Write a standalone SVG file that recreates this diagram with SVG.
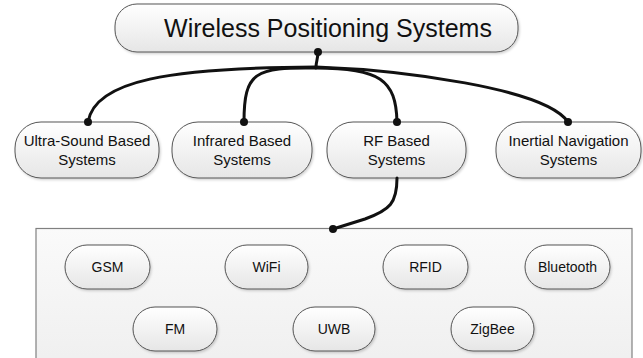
<svg xmlns="http://www.w3.org/2000/svg" width="643" height="358" viewBox="0 0 643 358">
<defs>
<linearGradient id="nodeFill" x1="0" y1="0" x2="0" y2="1">
<stop offset="0" stop-color="#ffffff"/>
<stop offset="1" stop-color="#e6e6e6"/>
</linearGradient>
<linearGradient id="panelFill" x1="0" y1="0" x2="0" y2="1">
<stop offset="0" stop-color="#fafafa"/>
<stop offset="1" stop-color="#efefef"/>
</linearGradient>
<filter id="shadow" x="-10%" y="-10%" width="125%" height="140%">
<feDropShadow dx="1.2" dy="1.5" stdDeviation="1" flood-color="#000" flood-opacity="0.18"/>
</filter>
<marker id="dot" viewBox="0 0 10 10" refX="5" refY="5" markerWidth="10" markerHeight="10" markerUnits="userSpaceOnUse">
<circle cx="5" cy="5" r="4" fill="#111"/>
</marker>
</defs>
<style>
.node{fill:url(#nodeFill);stroke:#555;stroke-width:1;filter:url(#shadow)}
.panel{fill:url(#panelFill);stroke:#808080;stroke-width:1.2}
.t{font-family:"Liberation Sans",Arial,sans-serif;fill:#111;text-anchor:middle}
.t15{font-size:15px}
.t14{font-size:14px}
.t25{font-size:25px}
.conn{fill:none;stroke:#111;stroke-width:3;stroke-linecap:round}
</style>

<g id="panel-rf">
<rect class="panel" x="36" y="228.5" width="596" height="140"/>
</g>

<g id="node-root">
<rect class="node" x="115" y="4" width="403" height="48" rx="22"/>
<text class="t t25" x="328" y="37">Wireless Positioning Systems</text>
</g>

<g id="node-ultrasound">
<rect class="node" x="15" y="122" width="144" height="56" rx="26"/>
<text class="t t15" x="87" y="146">Ultra-Sound Based</text>
<text class="t t15" x="87" y="165">Systems</text>
</g>
<g id="node-infrared">
<rect class="node" x="172" y="122" width="140" height="56" rx="26"/>
<text class="t t15" x="242" y="146">Infrared Based</text>
<text class="t t15" x="242" y="165">Systems</text>
</g>
<g id="node-rf">
<rect class="node" x="327" y="122" width="139" height="56" rx="26"/>
<text class="t t15" x="396.5" y="146">RF Based</text>
<text class="t t15" x="396.5" y="165">Systems</text>
</g>
<g id="node-inertial">
<rect class="node" x="496" y="122" width="145" height="56" rx="26"/>
<text class="t t15" x="568.5" y="146">Inertial Navigation</text>
<text class="t t15" x="568.5" y="165">Systems</text>
</g>

<g id="node-gsm">
<rect class="node" x="65" y="245" width="85" height="44" rx="22"/>
<text class="t t14" x="107.5" y="272">GSM</text>
</g>
<g id="node-wifi">
<rect class="node" x="225" y="245" width="83" height="44" rx="22"/>
<text class="t t14" x="266.5" y="272">WiFi</text>
</g>
<g id="node-rfid">
<rect class="node" x="383" y="245" width="85" height="44" rx="22"/>
<text class="t t14" x="425.5" y="272">RFID</text>
</g>
<g id="node-bluetooth">
<rect class="node" x="525" y="245" width="85" height="44" rx="22"/>
<text class="t t14" x="567.5" y="272">Bluetooth</text>
</g>
<g id="node-fm">
<rect class="node" x="133" y="307" width="84" height="44" rx="22"/>
<text class="t t14" x="175" y="334">FM</text>
</g>
<g id="node-uwb">
<rect class="node" x="293" y="307" width="82" height="44" rx="22"/>
<text class="t t14" x="334" y="334">UWB</text>
</g>
<g id="node-zigbee">
<rect class="node" x="451" y="307" width="83" height="44" rx="22"/>
<text class="t t14" x="492.5" y="334">ZigBee</text>
</g>

<g id="connectors">
<path class="conn" d="M318,52 C318,58 316,62 316,67" marker-start="url(#dot)"/>
<path class="conn" d="M316,67 C170,68 95,80 88,122" marker-end="url(#dot)"/>
<path class="conn" d="M316,68 C255,67 244,72 244,122" marker-end="url(#dot)"/>
<path class="conn" d="M316,68 C380,68 396,80 397,122" marker-end="url(#dot)"/>
<path class="conn" d="M316,67 C400,70 545,88 568,122" marker-end="url(#dot)"/>
<path class="conn" d="M397,178 C397,203 390,210 365,219 L333,229" marker-end="url(#dot)"/>
</g>
</svg>
